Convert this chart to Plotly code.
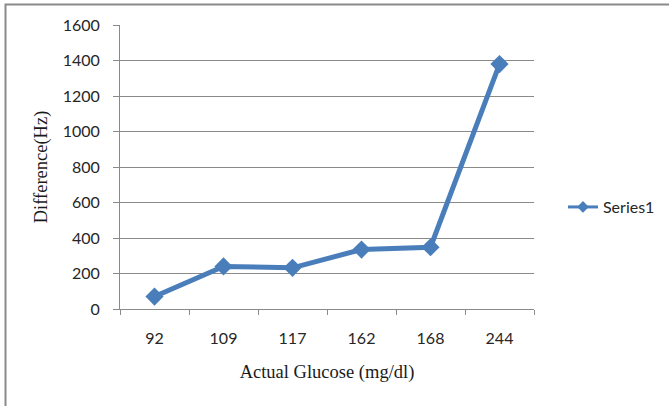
import plotly.graph_objects as go

categories = ["92", "109", "117", "162", "168", "244"]
values = [70, 240, 232, 335, 348, 1380]
y_ticks = [0, 200, 400, 600, 800, 1000, 1200, 1400, 1600]

blue = "#4a7ebb"
gray = "#8a8a8a"
serif = "Liberation Serif, Times New Roman, serif"

fig = go.Figure()
fig.add_trace(go.Scatter(
    x=categories, y=values, mode="lines+markers", name="Series1",
    line=dict(color=blue, width=5),
    marker=dict(symbol="diamond", size=14, color=blue),
    showlegend=False,
))
# legend-only entry (smaller symbol, as in the reference legend)
fig.add_trace(go.Scatter(
    x=[None], y=[None], mode="lines+markers", name="Series1",
    line=dict(color=blue, width=3),
    marker=dict(symbol="diamond", size=9, color=blue),
    showlegend=True,
))

fig.update_layout(
    width=669, height=406,
    margin=dict(l=120, r=135, t=25, b=97, autoexpand=False),
    paper_bgcolor="white", plot_bgcolor="white",
    font=dict(family="Lato, Open Sans, sans-serif", size=16, color="#262626"),
    showlegend=True,
    legend=dict(x=1.07, y=0.359, xanchor="left", yanchor="middle",
                font=dict(family="Lato, sans-serif", size=16, color="#262626"),
                bgcolor="rgba(0,0,0,0)"),
    xaxis=dict(
        type="category", range=[-0.5, 5.5], showline=True, linecolor=gray, linewidth=1,
        ticks="outside", tickson="boundaries", ticklen=5, tickcolor=gray,
        showgrid=False, ticklabelstandoff=15, automargin=False,
        title=dict(text="Actual Glucose (mg/dl)",
                   font=dict(family=serif, size=18.5, color="#1a1a1a"),
                   standoff=18),
    ),
    yaxis=dict(
        range=[0, 1600], tickvals=y_ticks, showline=True, linecolor=gray, linewidth=1,
        ticks="outside", ticklen=6, tickcolor=gray,
        showgrid=True, gridcolor=gray, gridwidth=1, zeroline=False,
        ticklabelstandoff=10, automargin=False,
        title=dict(text="Difference(Hz)",
                   font=dict(family=serif, size=18.5, color="#1a1a1a"),
                   standoff=10),
    ),
)

# chart-area border: right and bottom edges lie just outside the cropped picture
fig.add_shape(type="rect", xref="paper", yref="paper",
              x0=-114.5/414, x1=(671 - 120)/414,
              y0=1 + 20.5/284, y1=-(97 + 2)/284,
              line=dict(color="#8a8a8a", width=2), fillcolor="rgba(0,0,0,0)",
              layer="above")

fig.write_html("out.html", config={"displayModeBar": False},
               post_script="document.body.style.margin='0';")
